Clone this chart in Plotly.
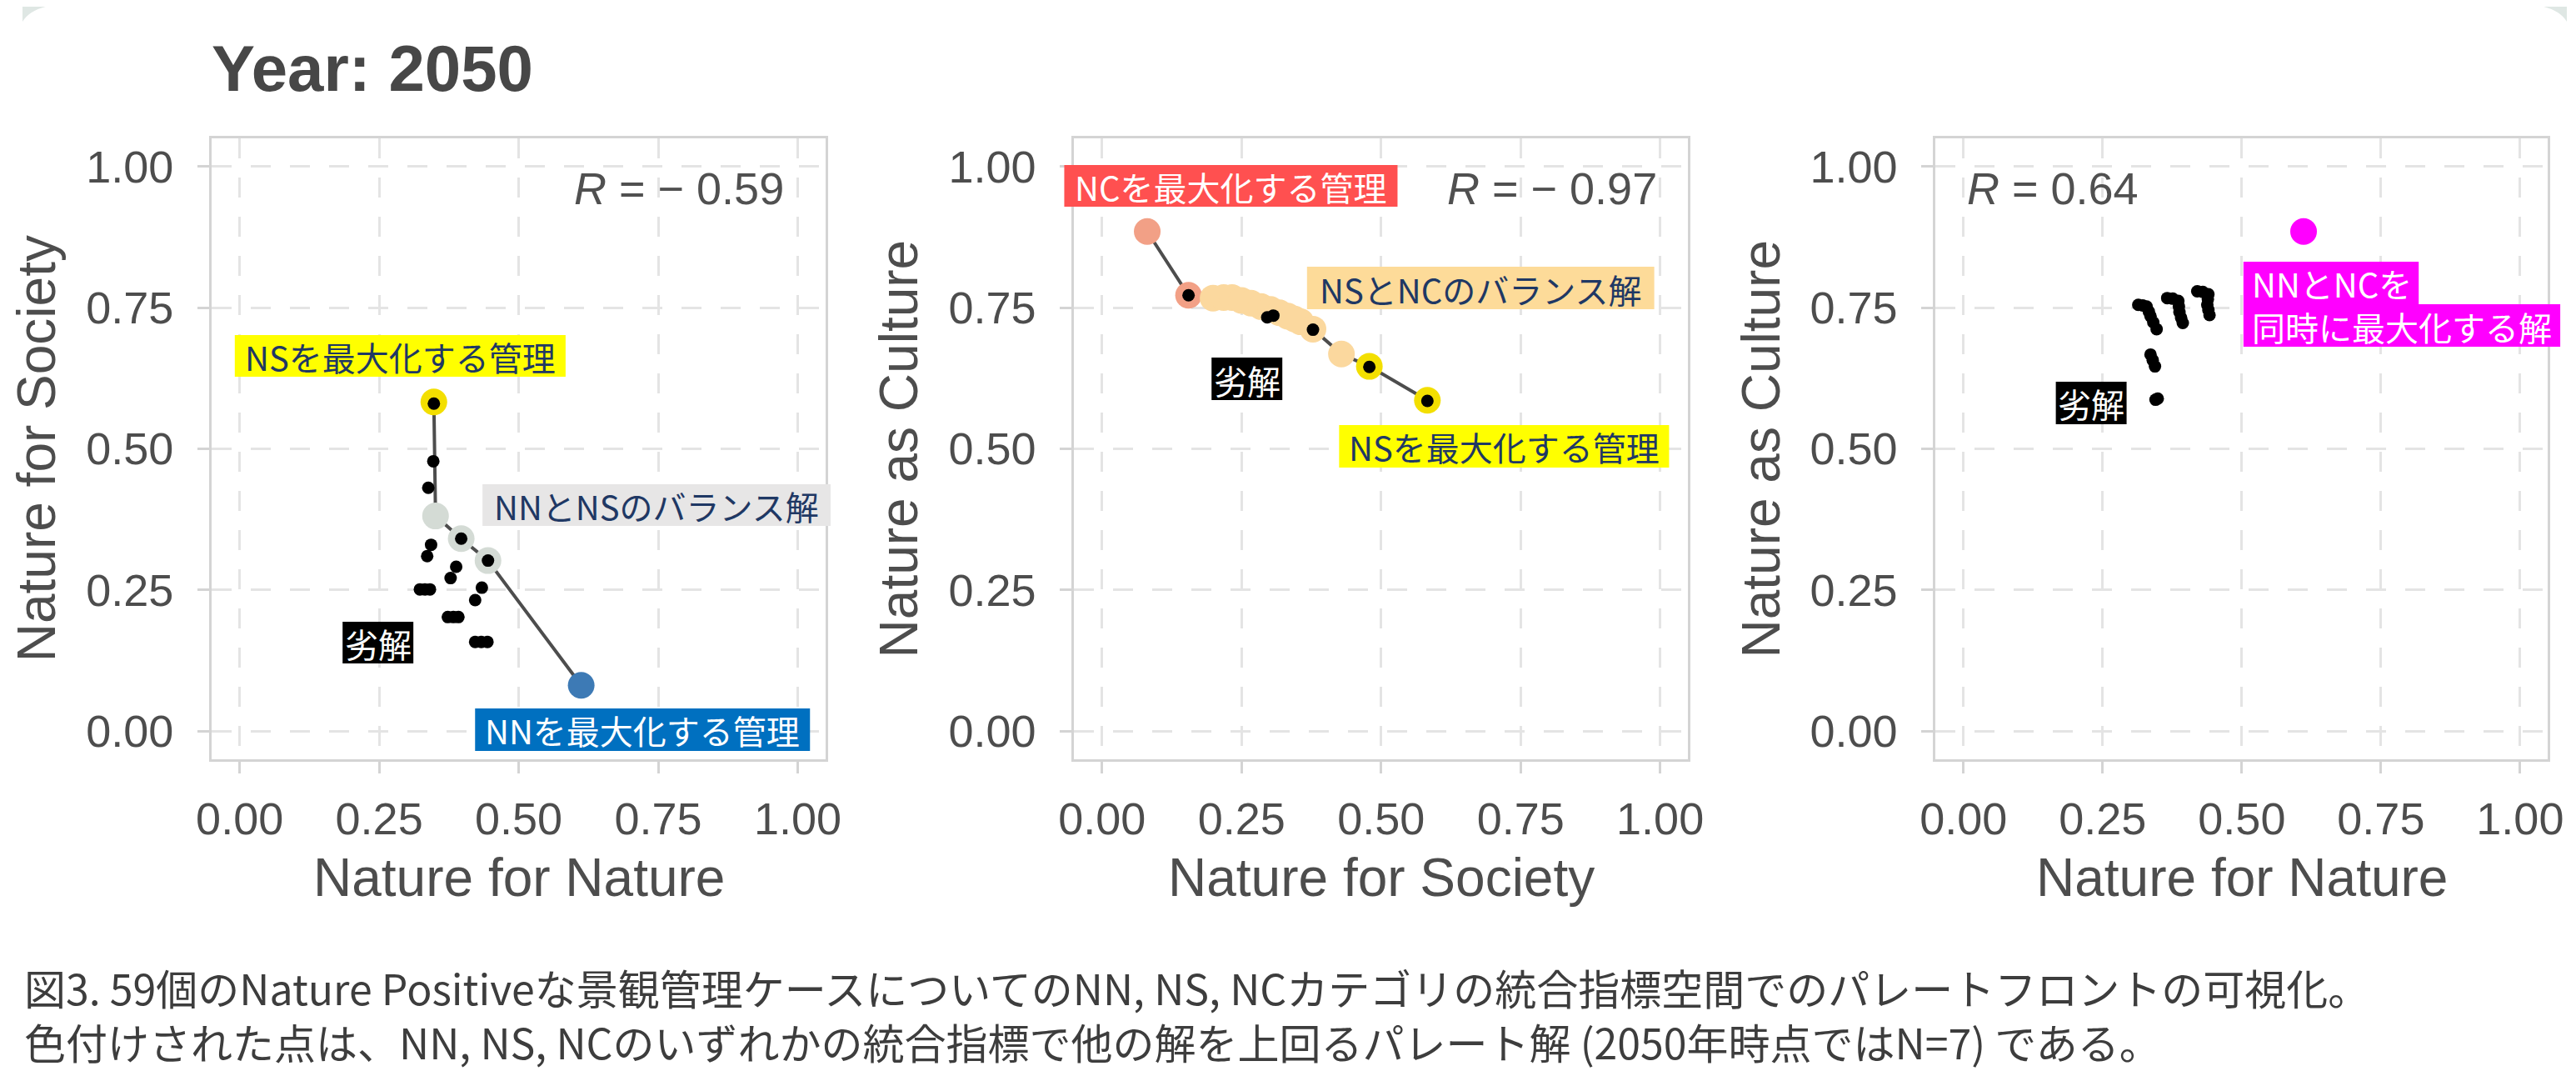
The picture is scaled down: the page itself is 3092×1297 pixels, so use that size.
import plotly.graph_objects as go

W, H = 3092, 1297

# ---------------- data ----------------
tick_vals = [0, 0.25, 0.5, 0.75, 1.0]
tick_text = ["0.00", "0.25", "0.50", "0.75", "1.00"]

# Panel 1: Nature for Nature (x) vs Nature for Society (y)
p1_front_x = [0.348, 0.351, 0.397, 0.445, 0.612]
p1_front_y = [0.583, 0.381, 0.341, 0.302, 0.081]
p1_front_cat = ["NS", "NN_NS", "NN_NS", "NN_NS", "NN"]
p1_black_x = [0.348, 0.347, 0.338, 0.397, 0.445, 0.343, 0.336, 0.388, 0.378,
              0.323, 0.332, 0.341, 0.434, 0.422, 0.373, 0.383, 0.392, 0.422, 0.433, 0.444]
p1_black_y = [0.580, 0.478, 0.431, 0.341, 0.302, 0.330, 0.310, 0.291, 0.271,
              0.251, 0.251, 0.251, 0.254, 0.232, 0.202, 0.202, 0.202, 0.158, 0.158, 0.158]

# Panel 2: Nature for Society (x) vs Nature as Culture (y)
p2_front_x = [0.081, 0.155, 0.199, 0.218, 0.233, 0.250, 0.267, 0.285, 0.302, 0.318,
              0.333, 0.345, 0.356, 0.378, 0.429, 0.479, 0.583]
p2_front_y = [0.885, 0.772, 0.767, 0.768, 0.768, 0.763, 0.758, 0.752, 0.747, 0.741,
              0.735, 0.730, 0.725, 0.712, 0.668, 0.646, 0.586]
p2_front_cat = ["NC", "NC"] + ["NS_NC"] * 13 + ["NS", "NS"]
p2_black_x = [0.155, 0.296, 0.307, 0.378, 0.479, 0.583]
p2_black_y = [0.772, 0.733, 0.736, 0.711, 0.645, 0.585]

# Panel 3: Nature for Nature (x) vs Nature as Culture (y)
p3_best_x = [0.611]
p3_best_y = [0.885]
p3_black_x = [0.314, 0.322, 0.329, 0.333, 0.336, 0.341, 0.347,
              0.366, 0.376, 0.386, 0.387, 0.388, 0.391, 0.394,
              0.420, 0.430, 0.440, 0.439, 0.438, 0.440, 0.442,
              0.336, 0.340, 0.344, 0.345, 0.349]
p3_black_y = [0.755, 0.754, 0.752, 0.743, 0.735, 0.724, 0.712,
              0.767, 0.766, 0.762, 0.752, 0.742, 0.732, 0.723,
              0.779, 0.778, 0.774, 0.765, 0.755, 0.746, 0.737,
              0.667, 0.657, 0.646, 0.587, 0.589]

r_values = ["− 0.59", "− 0.97", "0.64"]
x_titles = ["Nature for Nature", "Nature for Society", "Nature for Nature"]
y_titles = ["Nature for Society", "Nature as Culture", "Nature as Culture"]

title_text = "Year: 2050"
caption_lines = [
    "図3. 59個のNature Positiveな景観管理ケースについてのNN, NS, NCカテゴリの統合指標空間でのパレートフロントの可視化。",
    "色付けされた点は、NN, NS, NCのいずれかの統合指標で他の解を上回るパレート解 (2050年時点ではN=7) である。",
]

# ---------------- styles ----------------
cat_colors = {"NS": "#f3df00", "NN_NS": "#d4dbd5", "NN": "#3d7ab5",
              "NC": "#f2a086", "NS_NC": "#fbd89e"}
NAVY = "#1f3864"
TXT = "#4d4d4d"
GRID = "#e4e4e4"
BORDER = "#d4d4d4"
LATIN = "Liberation Sans, Arial, sans-serif"
JP = "Noto Sans CJK JP, sans-serif"
BIG, SMALL = 32, 15


def px(x):
    return x / W


def py(y):
    return 1 - y / H


panels = [(230, 976), (1278, 2024), (2325, 3069)]
ytop, ybot = 158, 903

fig = go.Figure()

# panel 1
fig.add_trace(go.Scatter(x=p1_front_x, y=p1_front_y, mode="lines",
                         line=dict(color="#4d4d4d", width=4), xaxis="x", yaxis="y",
                         showlegend=False, hoverinfo="skip"))
fig.add_trace(go.Scatter(x=p1_front_x, y=p1_front_y, mode="markers",
                         marker=dict(size=BIG, color=[cat_colors[c] for c in p1_front_cat], line=dict(width=0)),
                         xaxis="x", yaxis="y", showlegend=False))
fig.add_trace(go.Scatter(x=p1_black_x, y=p1_black_y, mode="markers",
                         marker=dict(size=SMALL, color="black", line=dict(width=0)),
                         xaxis="x", yaxis="y", showlegend=False))
# panel 2
fig.add_trace(go.Scatter(x=p2_front_x, y=p2_front_y, mode="lines",
                         line=dict(color="#4d4d4d", width=4), xaxis="x2", yaxis="y2",
                         showlegend=False, hoverinfo="skip"))
fig.add_trace(go.Scatter(x=p2_front_x, y=p2_front_y, mode="markers",
                         marker=dict(size=BIG, color=[cat_colors[c] for c in p2_front_cat], line=dict(width=0)),
                         xaxis="x2", yaxis="y2", showlegend=False))
fig.add_trace(go.Scatter(x=p2_black_x, y=p2_black_y, mode="markers",
                         marker=dict(size=SMALL, color="black", line=dict(width=0)),
                         xaxis="x2", yaxis="y2", showlegend=False))
# panel 3
fig.add_trace(go.Scatter(x=p3_best_x, y=p3_best_y, mode="markers",
                         marker=dict(size=BIG, color="#ff00ff", line=dict(width=0)),
                         xaxis="x3", yaxis="y3", showlegend=False))
fig.add_trace(go.Scatter(x=p3_black_x, y=p3_black_y, mode="markers",
                         marker=dict(size=SMALL, color="black", line=dict(width=0)),
                         xaxis="x3", yaxis="y3", showlegend=False))

axis_common = dict(range=[-0.05, 1.05], tickvals=tick_vals, ticktext=tick_text,
                   showgrid=True, gridcolor=GRID, gridwidth=3, griddash="24px,23px",
                   zeroline=False, showline=True, mirror=True, linecolor=BORDER, linewidth=3,
                   ticks="outside", ticklen=14, tickwidth=3, tickcolor=BORDER,
                   tickfont=dict(family=LATIN, size=54, color=TXT),
                   fixedrange=True)

layout = dict(width=W, height=H, margin=dict(l=0, r=0, t=0, b=0),
              paper_bgcolor="white", plot_bgcolor="white", showlegend=False)
for i, (x0, x1) in enumerate(panels):
    sfx = "" if i == 0 else str(i + 1)
    layout["xaxis" + sfx] = dict(axis_common, domain=[px(x0), px(x1)], anchor="y" + sfx,
                                 ticklabelstandoff=8)
    layout["yaxis" + sfx] = dict(axis_common, domain=[py(ybot), py(ytop)], anchor="x" + sfx,
                                 ticklabelstandoff=18)
fig.update_layout(**layout)

annotations = []
shapes = []

# title
annotations.append(dict(text="<b>" + title_text + "</b>", x=px(228), y=py(74), xref="paper", yref="paper",
                        xanchor="left", yanchor="middle", showarrow=False,
                        font=dict(family=LATIN, size=78, color="#474747")))

# axis titles
for i, (x0, x1) in enumerate(panels):
    annotations.append(dict(text=x_titles[i], x=px((x0 + x1) / 2), y=py(1045), xref="paper", yref="paper",
                            xanchor="center", yanchor="middle", showarrow=False,
                            font=dict(family=LATIN, size=64, color=TXT)))
    annotations.append(dict(text=y_titles[i], x=px(x0 - 212), y=py((ytop + ybot) / 2), xref="paper",
                            yref="paper", xanchor="center", yanchor="middle", showarrow=False,
                            textangle=-90, font=dict(family=LATIN, size=64, color=TXT)))

# R labels
r_pos = [("x", "y", 0.978, "right"), ("x2", "y2", 0.997, "right"), ("x3", "y3", 0.003, "left")]
for (xr, yr, xx, anc), rv in zip(r_pos, r_values):
    annotations.append(dict(text="<i>R</i> = " + rv, x=xx, y=0.962, xref=xr, yref=yr,
                            xanchor=anc, yanchor="middle", showarrow=False,
                            font=dict(family=LATIN, size=54, color="#505050")))

# highlighted labels: (text, x0, x1, y0, y1, bg, fg)
labels = [
    ("NSを最大化する管理", 258, 660, 394, 444, "#ffff00", NAVY),
    ("NNとNSのバランス解", 559, 982, 573, 623, "#e7e6e6", NAVY),
    ("劣解", 389, 475, 738, 788, "#000000", "white"),
    ("NNを最大化する管理", 550, 957, 842, 893, "#0070c0", "white"),
    ("NCを最大化する管理", 1266, 1671, 190, 240, "#ff5050", "white"),
    ("NSとNCのバランス解", 1561, 1983, 312, 363, "#fddb99", NAVY),
    ("劣解", 1445, 1531, 421, 472, "#000000", "white"),
    ("NSを最大化する管理", 1600, 2001, 502, 553, "#ffff00", NAVY),
    ("劣解", 2471, 2557, 450, 501, "#000000", "white"),
]
for t, x0, x1, y0, y1, bg, fg in labels:
    shapes.append(dict(type="rect", xref="paper", yref="paper", x0=px(x0), x1=px(x1), y0=py(y1), y1=py(y0),
                       fillcolor=bg, line=dict(width=0), layer="above"))
    annotations.append(dict(text=t, x=px((x0 + x1) / 2), y=py((y0 + y1) / 2 + 1), xref="paper", yref="paper",
                            xanchor="center", yanchor="middle", showarrow=False,
                            font=dict(family=JP, size=40, color=fg)))

# two-line magenta label (per-line highlight boxes, one text block)
for x0, x1, y0, y1 in [(2699, 2912, 306, 357), (2699, 3084, 357, 408)]:
    shapes.append(dict(type="rect", xref="paper", yref="paper", x0=px(x0), x1=px(x1), y0=py(y1), y1=py(y0),
                       fillcolor="#ff00ff", line=dict(width=0), layer="above"))
annotations.append(dict(text="NNとNCを<br>同時に最大化する解", x=px(2707), y=py(358), xref="paper", yref="paper",
                        xanchor="left", yanchor="middle", align="left", showarrow=False,
                        font=dict(family=JP, size=40, color="white")))

# caption (one two-line text block)
annotations.append(dict(text="<br>".join(caption_lines), x=0, y=py(1208), xref="paper", yref="paper",
                        xanchor="left", yanchor="middle", align="left", showarrow=False,
                        font=dict(family=JP, size=50, color="#3d3d3d")))

# page card corners
shapes.append(dict(type="path", xref="paper", yref="paper",
                   path=f"M 0 1 L {px(28)} 1 Q {px(8)} {py(5)} 0 {py(18)} Z",
                   fillcolor="#dfe7e4", line=dict(width=0), layer="below"))
shapes.append(dict(type="path", xref="paper", yref="paper",
                   path=f"M 1 1 L {px(W - 28)} 1 Q {px(W - 8)} {py(5)} 1 {py(18)} Z",
                   fillcolor="#dfe7e4", line=dict(width=0), layer="below"))

fig.update_layout(annotations=annotations, shapes=shapes)
fig.write_html("out.html")
